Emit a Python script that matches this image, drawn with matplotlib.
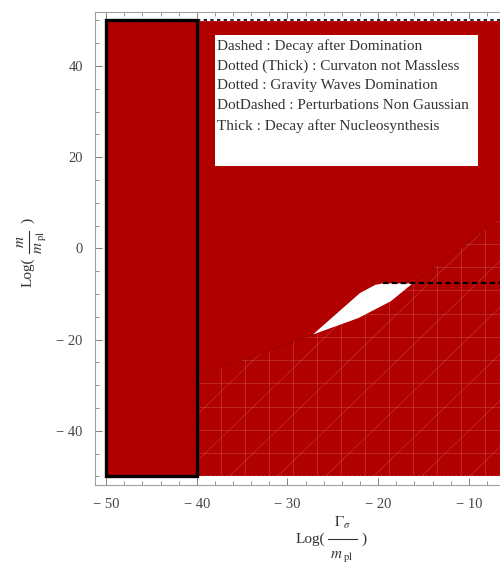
import matplotlib
matplotlib.use("Agg")
import numpy as np
import matplotlib.pyplot as plt
from matplotlib.patches import Polygon, Rectangle
from matplotlib.collections import LineCollection
from matplotlib.lines import Line2D

plt.rcParams["font.family"] = ["Liberation Serif", "DejaVu Serif"]
plt.rcParams["mathtext.fontset"] = "stix"

# allowed region (log Gamma / m_pl, log m / m_pl)
x_min, x_max = -50, 0
y_min, y_max = -50, 50
nucleo_x = -40          # thick line: decay after nucleosynthesis

# excluded white sliver (upper edge, then lower edge back to tip)
sliver_x = [-27.2, -24.4, -22.0, -20.3, -19.5, -16.2, -18.6, -22.2]
sliver_y = [-18.9, -14.0, -9.8, -8.0, -7.7, -7.7, -11.6, -15.3]

# dashed: decay after domination
dashed_y = -7.7
dashed_x0 = -19.5

# faint boundary of the meshed part
bound_x = [-40, -27.2, -16.2, -7.3, 1.2]
bound_y = [-28, -18.9, -7.7, 5.5, 18]

legend_lines = [
    "Dashed : Decay after Domination",
    "Dotted (Thick) : Curvaton not Massless",
    "Dotted : Gravity Waves Domination",
    "DotDashed : Perturbations Non Gaussian",
    "Thick : Decay after Nucleosynthesis",
]

xticks = [-50, -40, -30, -20, -10]
xtick_labels = ["\u2212 50", "\u2212 40", "\u2212 30", "\u2212 20", "\u2212 10"]
yticks = [-40, -20, 0, 20, 40]
ytick_labels = ["\u2212 40", "\u2212 20", "0", "20", "40"]

RED = "#b10000"
TXT = "#333333"
W, H = 500, 563

fig = plt.figure(figsize=(5, 5.63), dpi=100)
ax = fig.add_axes([0.1906, 0.1385, 0.950, 0.840])
ax.set_xlim(-51.2, 1.2)
ax.set_ylim(-51.9, 51.8)

# main red region
ax.add_patch(Rectangle((x_min, y_min), x_max + 1.2 - x_min, y_max - y_min,
                       facecolor=RED, edgecolor="none", zorder=1))

# mesh artifacts below the boundary
clip = Polygon([(nucleo_x, y_min)] + list(zip(bound_x, bound_y)) + [(1.2, y_min)],
               closed=True, transform=ax.transData)
dx, dy = 2.65, 5.1
segs = []
for xv in np.arange(nucleo_x, 2, dx):
    segs.append([(xv, y_min), (xv, 30)])
for yv in np.arange(y_min, 30, dy):
    segs.append([(nucleo_x, yv), (2, yv)])
for x0 in np.arange(nucleo_x - 60, 2, dx * 2):
    segs.append([(x0, y_min), (x0 + 60, y_min + 60 * dy / dx)])
lc = LineCollection(segs, colors="white", linewidths=0.6, alpha=0.17, zorder=2)
ax.add_collection(lc)
lc.set_clip_path(clip)

ax.plot(bound_x, bound_y, color="#6a0000", lw=0.9, ls=(0, (2, 2)), alpha=0.5, zorder=3)

# white sliver
ax.add_patch(Polygon(list(zip(sliver_x, sliver_y)), closed=True,
                     facecolor="white", edgecolor="none", zorder=4))

# dashed line
ax.plot([dashed_x0, 1.2], [dashed_y, dashed_y], color="black", lw=1.6,
        ls=(0, (2.5, 1.5)), zorder=5)

# top dotted edge and bottom edge
ax.plot([nucleo_x, 1.2], [y_max, y_max], color="white", lw=1.6, zorder=5)
ax.plot([nucleo_x, 1.2], [y_max, y_max], color="black", lw=1.2,
        ls=(0, (2, 2)), zorder=6)
ax.plot([nucleo_x, 1.2], [y_min, y_min], color="white", lw=1.0,
        ls=(0, (1, 2)), zorder=5)

# thick box: decay after nucleosynthesis
ax.add_patch(Rectangle((x_min, y_min), nucleo_x - x_min, y_max - y_min,
                       facecolor=RED, edgecolor="black", lw=2.4, zorder=7))

# legend box
ax.add_patch(Rectangle((-37.98, 18.05), 28.99, 28.75, facecolor="white",
                       edgecolor="none", zorder=8))
for i, line in enumerate(legend_lines):
    ax.text(-37.75, 44.4 - i * 4.39, line, fontsize=11, color=TXT,
            va="center", ha="left", zorder=9)

# axes styling
for s in ax.spines.values():
    s.set_color("#a0a0a0")
    s.set_linewidth(0.8)
ax.set_xticks(xticks)
ax.set_xticklabels(xtick_labels)
ax.set_yticks(yticks)
ax.set_yticklabels(ytick_labels)
ax.set_xticks(np.arange(-50, 1, 2), minor=True)
ax.set_yticks(np.arange(-50, 51, 5), minor=True)
ax.tick_params(which="both", direction="in", top=True, right=True,
               color="#808080", labelcolor="#444444", labelsize=10.5)
ax.tick_params(which="major", length=5, width=0.7, pad=9)
ax.tick_params(which="minor", length=3, width=0.6)


def ftext(px, py, s, **kw):
    fig.text(px / W, 1 - py / H, s, color=TXT, fontsize=11, **kw)


def fline(xs, ys):
    fig.add_artist(Line2D([x / W for x in xs], [1 - y / H for y in ys],
                          color=TXT, lw=0.8))


# x label: Log( Gamma_sigma / m_pl )
ftext(325, 539, "Log(", ha="right", va="center")
fline([328, 357], [539, 539])
ftext(342, 523, r"$\Gamma_{\sigma}$", ha="center", va="center")
ftext(342, 556, r"$m_{\ \mathrm{pl}}$", ha="center", va="center")
ftext(361, 539, ")", ha="left", va="center")

# y label: Log( m / m_pl ), rotated (reads bottom to top)
ftext(28, 257, "Log(", ha="center", va="top", rotation=90)
fline([29, 29], [231, 253])
ftext(20, 242, r"$m$", ha="center", va="center", rotation=90)
ftext(41, 242, r"$m_{\ \mathrm{pl}}$", ha="center", va="center", rotation=90)
ftext(28, 220, ")", ha="center", va="center", rotation=90)

fig.savefig("out.png", dpi=100)
